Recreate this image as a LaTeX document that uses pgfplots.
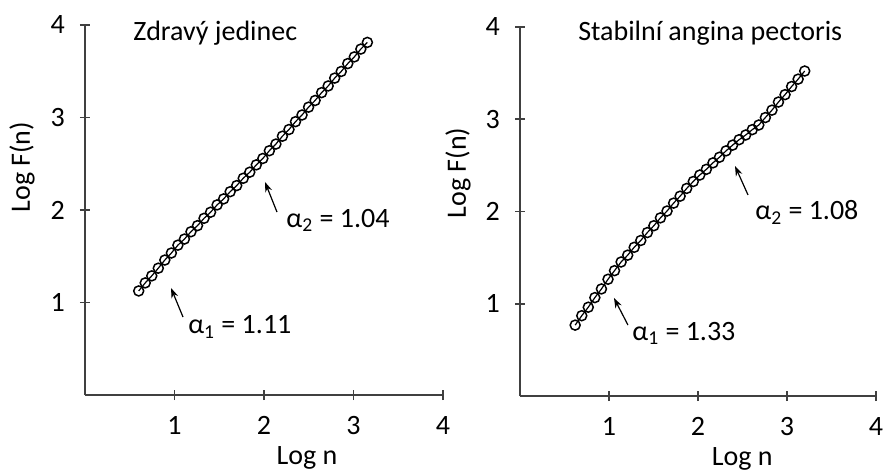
\documentclass[border=0pt]{standalone}
\usepackage{pgfplots}
\pgfplotsset{compat=1.18}
\usepackage{pgfplotstable}
\usepackage{fontspec}
\setmainfont{Carlito}
\usetikzlibrary{arrows.meta}

\pgfplotstableread{
x y
0.600 1.125
0.673 1.212
0.746 1.288
0.819 1.371
0.892 1.459
0.965 1.535
1.038 1.620
1.111 1.686
1.184 1.765
1.257 1.831
1.330 1.910
1.403 1.976
1.476 2.055
1.549 2.120
1.622 2.198
1.695 2.264
1.768 2.343
1.841 2.409
1.914 2.488
1.987 2.557
2.060 2.641
2.133 2.713
2.206 2.798
2.279 2.870
2.352 2.955
2.425 3.027
2.498 3.112
2.571 3.184
2.644 3.269
2.717 3.341
2.790 3.426
2.863 3.498
2.936 3.583
3.009 3.655
3.082 3.740
3.155 3.812
}\healthy

\pgfplotstableread{
x y
0.620 0.768
0.694 0.870
0.767 0.962
0.841 1.066
0.915 1.160
0.989 1.265
1.062 1.358
1.136 1.452
1.210 1.526
1.283 1.611
1.357 1.685
1.431 1.771
1.504 1.845
1.578 1.930
1.652 2.004
1.726 2.090
1.799 2.165
1.873 2.249
1.947 2.324
2.020 2.394
2.094 2.456
2.168 2.526
2.241 2.587
2.315 2.656
2.389 2.718
2.462 2.777
2.536 2.828
2.610 2.886
2.683 2.936
2.757 3.017
2.831 3.097
2.904 3.185
2.978 3.265
3.052 3.353
3.125 3.433
3.199 3.521
}\angina

\tikzset{
  arr/.style={-{Stealth[length=5pt,width=3.5pt]}, line width=0.6pt, black},
  lbl/.style={font=\fontsize{14}{16}\selectfont, anchor=west, inner sep=0pt},
}
\pgfplotsset{
  dfa/.style={
    scale only axis,
    anchor=south west,
    xmin=0, xmax=4, ymin=0, ymax=4,
    axis lines=left,
    axis line style={black!75, line width=0.8pt, -},
    xtick={1,2,3,4}, ytick={1,2,3,4},
    tick align=center,
    major tick length=5pt,
    tick style={black!75, line width=0.8pt},
    /pgf/number format/assume math mode=true,
    tick label style={font=\fontsize{14}{16}\selectfont},
    label style={font=\fontsize{14}{16}\selectfont},
    xticklabel style={yshift=-4.5pt},
    yticklabel style={xshift=-4pt},
    clip=false,
  },
  dataplot/.style={black, line width=0.6pt, mark=o, mark size=2.5pt,
    mark options={line width=0.75pt}},
}

\begin{document}
\begin{tikzpicture}
\useasboundingbox (0,0) rectangle (441.5pt,-235pt);

\begin{axis}[dfa,
  at={(42.5pt,-197.5pt)}, width=179pt, height=185pt,
  xlabel={Log n}, ylabel={Log F(n)},
  xlabel style={at={(axis description cs:0.620,-0.189)}, anchor=base},
  ylabel style={at={(axis description cs:-0.176,0.616)}, anchor=center},
]
\addplot[dataplot] table[x=x,y=y] {\healthy};
\draw[arr] (axis cs:1.095,0.843) -- (axis cs:0.961,1.157);
\draw[arr] (axis cs:2.145,1.978) -- (axis cs:2.011,2.303);
\node[lbl] at (axis cs:1.15,0.735) {α\textsubscript{1} = 1.11};
\node[lbl] at (axis cs:2.246,1.89) {α\textsubscript{2} = 1.04};
\node[lbl] at (axis cs:0.536,3.91) {Zdravý jedinec};
\end{axis}

\begin{axis}[dfa,
  at={(260pt,-198pt)}, width=178pt, height=184.6pt,
  xlabel={Log n}, ylabel={Log F(n)},
  xlabel style={at={(axis description cs:0.624,-0.187)}, anchor=base},
  ylabel style={at={(axis description cs:-0.174,0.604)}, anchor=center},
]
\addplot[dataplot] table[x=x,y=y] {\angina};
\draw[arr] (axis cs:1.213,0.769) -- (axis cs:1.056,1.062);
\draw[arr] (axis cs:2.562,2.178) -- (axis cs:2.416,2.492);
\node[lbl] at (axis cs:1.258,0.68) {α\textsubscript{1} = 1.33};
\node[lbl] at (axis cs:2.64,1.99) {α\textsubscript{2} = 1.08};
\node[lbl] at (axis cs:0.65,3.93) {Stabilní angina pectoris};
\end{axis}
\end{tikzpicture}
\end{document}
